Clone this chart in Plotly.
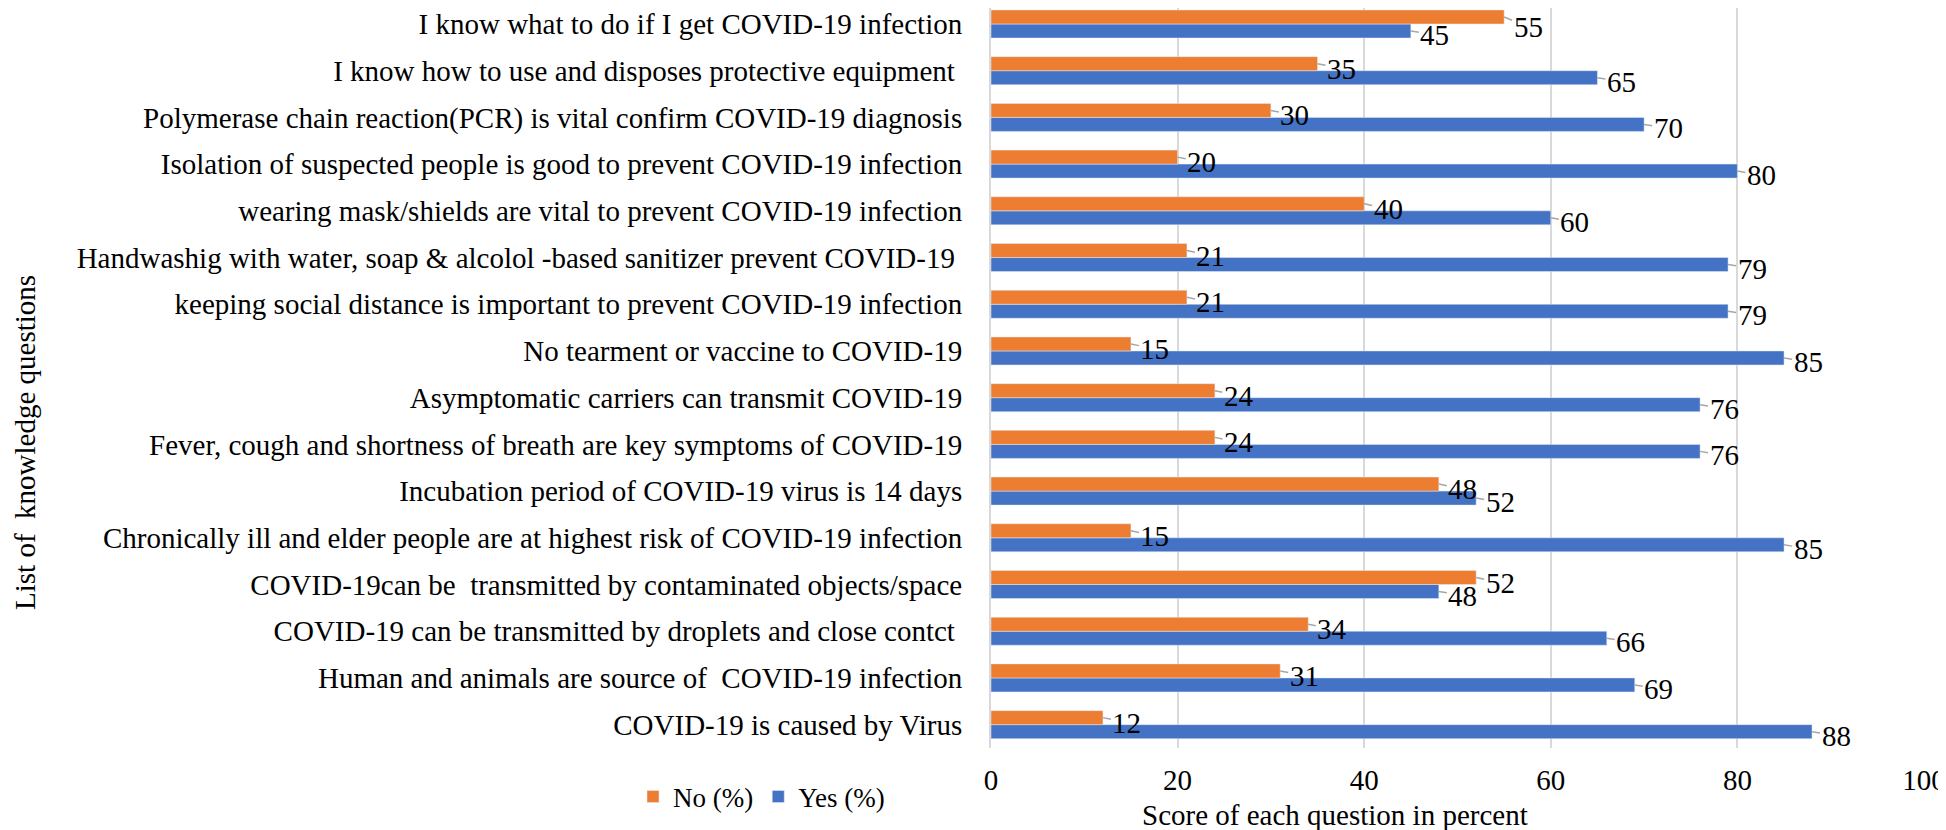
import plotly.graph_objects as go

NB = "\u00a0"
questions = [
    "COVID-19 is caused by Virus",
    "Human and animals are source of " + NB + "COVID-19 infection",
    "COVID-19 can be transmitted by droplets and close contct" + NB,
    "COVID-19can be " + NB + "transmitted by contaminated objects/space",
    "Chronically ill and elder people are at highest risk of COVID-19 infection",
    "Incubation period of COVID-19 virus is 14 days",
    "Fever, cough and shortness of breath are key symptoms of COVID-19",
    "Asymptomatic carriers can transmit COVID-19",
    "No tearment or vaccine to COVID-19",
    "keeping social distance is important to prevent COVID-19 infection",
    "Handwashig with water, soap & alcolol -based sanitizer prevent COVID-19" + NB,
    "wearing mask/shields are vital to prevent COVID-19 infection",
    "Isolation of suspected people is good to prevent COVID-19 infection",
    "Polymerase chain reaction(PCR) is vital confirm COVID-19 diagnosis",
    "I know how to use and disposes protective equipment" + NB,
    "I know what to do if I get COVID-19 infection",
]
yes_pct = [88, 69, 66, 48, 85, 52, 76, 76, 85, 79, 79, 60, 80, 70, 65, 45]
no_pct = [12, 31, 34, 52, 15, 48, 24, 24, 15, 21, 21, 40, 20, 30, 35, 55]
x_ticks = [0, 20, 40, 60, 80, 100]

ORANGE = "#ED7D31"
BLUE = "#4472C4"
GRID = "#D9D9D9"
FONT = "Liberation Serif"

fig = go.Figure()
fig.add_trace(go.Bar(y=questions, x=yes_pct, orientation="h", name="Yes (%)",
                     marker=dict(color=BLUE)))
fig.add_trace(go.Bar(y=questions, x=no_pct, orientation="h", name="No (%)",
                     marker=dict(color=ORANGE)))

annotations = []
for q, v in zip(questions, yes_pct):
    annotations.append(dict(x=v, y=q, text=str(v), yshift=-7, showarrow=True,
                            ax=24, ay=4, arrowhead=0, arrowwidth=1.5,
                            arrowcolor="#A6A6A6", standoff=0, startstandoff=0,
                            font=dict(size=29, color="black", family=FONT)))
last = len(questions) - 1
for i, (q, v) in enumerate(zip(questions, no_pct)):
    annotations.append(dict(x=v, y=q, text=str(v), yshift=7, showarrow=True,
                            ax=24, ay=(10 if i == last else 5), arrowhead=0,
                            arrowwidth=1.5, arrowcolor="#A6A6A6",
                            standoff=0, startstandoff=0,
                            font=dict(size=29, color="black", family=FONT)))

annotations.append(dict(xref="paper", yref="paper", x=-1.0354, y=0.4135,
                        text="List of " + NB + "knowledge questions", textangle=-90,
                        showarrow=False, xanchor="center", yanchor="middle",
                        font=dict(size=29, color="black", family=FONT)))
annotations.append(dict(xref="paper", yref="paper", x=0.3687, y=-0.0905,
                        text="Score of each question in percent",
                        showarrow=False, xanchor="center", yanchor="middle",
                        font=dict(size=29, color="black", family=FONT)))

fig.update_layout(
    width=1938, height=822,
    margin=dict(l=983, r=22, t=0, b=82, pad=0),
    paper_bgcolor="white", plot_bgcolor="white",
    barmode="group", bargap=0.4, bargroupgap=0,
    font=dict(family=FONT, size=29, color="black"),
    showlegend=True,
    legend=dict(orientation="h", x=-0.3837, y=-0.0662, xanchor="left",
                yanchor="middle", traceorder="reversed",
                font=dict(size=27, family=FONT, color="black"),
                itemwidth=30, bgcolor="rgba(0,0,0,0)"),
    annotations=annotations,
    xaxis=dict(range=[0, 100], tickvals=x_ticks, showgrid=True,
               gridcolor=GRID, gridwidth=2, zeroline=False, showline=False,
               ticks="", ticklabelstandoff=12, automargin=False,
               tickfont=dict(size=29, family=FONT, color="black")),
    yaxis=dict(type="category", categoryorder="array", categoryarray=questions,
               range=[-0.5, 15.342], automargin=False,
               showline=True, linecolor=GRID, linewidth=2, ticks="",
               showgrid=False, ticklabelstandoff=21,
               tickfont=dict(size=29, family=FONT, color="black")),
)

fig.write_html("out.html")
